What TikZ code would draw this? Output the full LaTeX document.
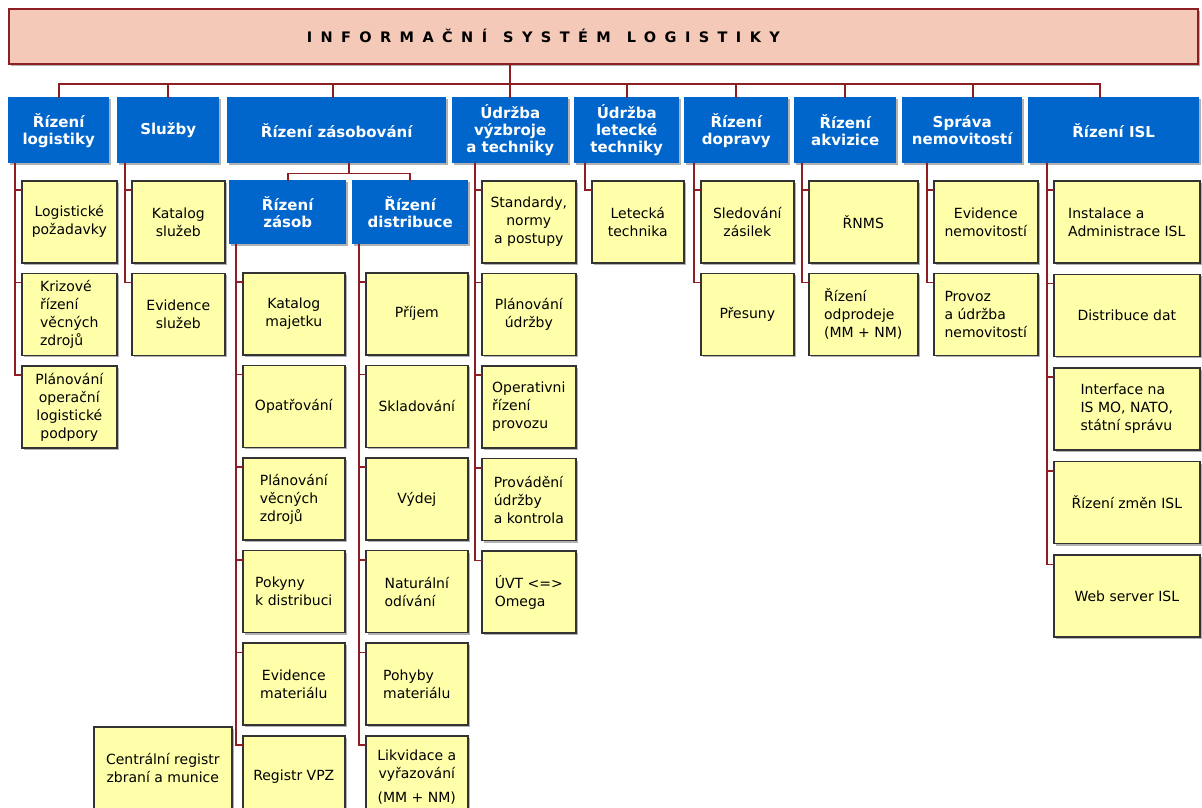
\documentclass[tikz,border=0pt]{standalone}
\usepackage{fontspec}
\setmainfont{DejaVu Sans}
\newfontfamily\titlefont[LetterSpace=58]{DejaVu Sans}
\usetikzlibrary{positioning}
\usetikzlibrary{calc}
\usetikzlibrary{shadows}
\definecolor{linkred}{RGB}{140,30,36}
\definecolor{titlepink}{RGB}{245,201,184}
\definecolor{headblue}{RGB}{0,102,204}
\definecolor{leafyellow}{RGB}{255,255,170}
\tikzset{link/.style={draw=linkred, line width=1.7pt, line cap=rect}}
\tikzset{boxshadow/.style={general shadow={fill=black!30, shadow xshift=2pt, shadow yshift=-2pt}}}
\tikzset{titlebox/.style={draw=linkred, fill=titlepink, line width=1.7pt, minimum width=1189pt, minimum height=55pt, anchor=north west, boxshadow}}
\tikzset{titletext/.style={font=\titlefont\bfseries\fontsize{14.5}{16}\selectfont}}
\tikzset{head/.style={fill=headblue, text=white, font=\bfseries\fontsize{15}{17}\selectfont, align=center, inner sep=0pt, minimum height=66pt, anchor=north west, boxshadow}}
\tikzset{leaf/.style={draw=black!80, fill=leafyellow, line width=1.6pt, font=\fontsize{14}{18}\selectfont, align=center, inner sep=0pt, minimum height=82pt, anchor=north west, boxshadow}}
\tikzset{leftleaf/.style={leaf, align=left}}

\begin{document}
\begin{tikzpicture}[x=1pt, y=-1pt, node distance=9pt]
\useasboundingbox (0,0) rectangle (1202,807);

\node (isl) [titlebox, label={[titletext, xshift=-60pt]center:INFORMAČNÍ\hspace{16pt}SYSTÉM\hspace{16pt}LOGISTIKY}] at (8,8) {};

% hlavni oblasti
\node (rl) [head, minimum width=101pt] at (8,97) {Řízení\\logistiky};
\node (sl) [head, minimum width=102pt] at (117,97) {Služby};
\node (rz) [head, minimum width=219pt] at (227,97) {Řízení zásobování};
\node (uvt) [head, minimum width=116pt] at (452,97) {Údržba\\výzbroje\\a techniky};
\node (ult) [head, minimum width=105pt] at (574,97) {Údržba\\letecké\\techniky};
\node (rd) [head, minimum width=104pt] at (684,97) {Řízení\\dopravy};
\node (ra) [head, minimum width=102pt] at (794,97) {Řízení\\akvizice};
\node (sn) [head, minimum width=120pt] at (902,97) {Správa\\nemovitostí};
\node (ri) [head, minimum width=171pt] at (1028,97) {Řízení ISL};
\node (rzz) [head, minimum width=117pt, minimum height=64pt] at (229,180) {Řízení\\zásob};
\node (rzd) [head, minimum width=116pt, minimum height=64pt] at (352,180) {Řízení\\distribuce};

% Rizeni logistiky
\node (rl1) [leaf, minimum width=95pt] at (21,180) {Logistické\\požadavky};
\node (rl2) [leftleaf, minimum width=95pt, below=of rl1] {Krizové\\řízení\\věcných\\zdrojů};
\node (rl3) [leaf, minimum width=95pt, below=of rl2] {Plánování\\operační\\logistické\\podpory};

% Sluzby
\node (sl1) [leaf, minimum width=93pt] at (131,180) {Katalog\\služeb};
\node (sl2) [leaf, minimum width=93pt, below=of sl1] {Evidence\\služeb};

% Rizeni zasob
\node (rzz1) [leaf, minimum width=102pt] at (242,272) {Katalog\\majetku};
\node (rzz2) [leaf, minimum width=102pt, below=of rzz1] {Opatřování};
\node (rzz3) [leftleaf, minimum width=102pt, below=of rzz2] {Plánování\\věcných\\zdrojů};
\node (rzz4) [leftleaf, minimum width=102pt, below=of rzz3] {Pokyny\\k distribuci};
\node (rzz5) [leaf, minimum width=102pt, below=of rzz4] {Evidence\\materiálu};
\node (rzz6) [leaf, minimum width=102pt, below=of rzz5] {Registr VPZ};
\node (crz) [leaf, minimum width=138pt] at (93,726) {Centrální registr\\zbraní a munice};

% Rizeni distribuce
\node (rzd1) [leaf, minimum width=102pt] at (365,272) {Příjem};
\node (rzd2) [leaf, minimum width=102pt, below=of rzd1] {Skladování};
\node (rzd3) [leaf, minimum width=102pt, below=of rzd2] {Výdej};
\node (rzd4) [leftleaf, minimum width=102pt, below=of rzd3] {Naturální\\odívání};
\node (rzd5) [leftleaf, minimum width=102pt, below=of rzd4] {Pohyby\\materiálu};
\node (rzd6) [leaf, minimum width=102pt, below=of rzd5] {Likvidace a\\vyřazování\\[6pt](MM + NM)};

% Udrzba vyzbroje
\node (uvt1) [leaf, minimum width=94pt] at (481,180) {Standardy,\\normy\\a postupy};
\node (uvt2) [leaf, minimum width=94pt, below=of uvt1] {Plánování\\údržby};
\node (uvt3) [leftleaf, minimum width=94pt, below=of uvt2] {Operativni\\řízení\\provozu};
\node (uvt4) [leftleaf, minimum width=94pt, below=of uvt3] {Provádění\\údržby\\a kontrola};
\node (uvt5) [leftleaf, minimum width=94pt, below=of uvt4] {ÚVT <=>\\Omega};

% letecka technika, doprava, akvizice, nemovitosti
\node (ult1) [leaf, minimum width=92pt] at (591,180) {Letecká\\technika};
\node (rd1) [leaf, minimum width=93pt] at (700,180) {Sledování\\zásilek};
\node (rd2) [leaf, minimum width=93pt, below=of rd1] {Přesuny};
\node (ra1) [leaf, minimum width=109pt] at (808,180) {ŘNMS};
\node (ra2) [leftleaf, minimum width=109pt, below=of ra1] {Řízení\\odprodeje\\(MM + NM)};
\node (sn1) [leaf, minimum width=104pt] at (933,180) {Evidence\\nemovitostí};
\node (sn2) [leftleaf, minimum width=104pt, below=of sn1] {Provoz\\a údržba\\nemovitostí};

% Rizeni ISL
\node (ri1) [leftleaf, minimum width=146pt] at (1053,180) {Instalace a\\Administrace ISL};
\node (ri2) [leaf, minimum width=146pt, below=10pt of ri1] {Distribuce dat};
\node (ri3) [leftleaf, minimum width=146pt, below=10pt of ri2] {Interface na\\IS MO, NATO,\\státní správu};
\node (ri4) [leaf, minimum width=146pt, below=10pt of ri3] {Řízení změn ISL};
\node (ri5) [leaf, minimum width=146pt, below=10pt of ri4] {Web server ISL};

% spoje
\coordinate (bus) at (0,84);
\draw[link] (uvt.north |- isl.south) -- (uvt.north |- bus);
\draw[link] (rl.north |- bus) -- ($(ri.north |- bus)+(-14,0)$);
\foreach \h/\dx in {rl/0, sl/0, rz/-4, uvt/0, ult/0, rd/0, ra/0, sn/11, ri/-14}
  \draw[link] ($(\h.north)+(\dx,0)$) -- ($(\h.north |- bus)+(\dx,0)$);

\draw[link] ($(rz.south)+(12,0)$) -- ++(0,10) coordinate (sub);
\draw[link] (rzz.north) -- (rzz.north |- sub) -- (rzd.north |- sub) -- (rzd.north);

\foreach \col/\k in {rl/3, sl/2, rzz/6, rzd/6, uvt/5, ult/1, rd/2, ra/2, sn/2, ri/5} {
  \draw[link] ($(\col1.west |- \col.south)+(-6,0)$) |- ($(\col\k.north west)+(0,10)$);
  \foreach \i in {1,...,\k}
    \draw[link] ($(\col\i.north west)+(-6,10)$) -- ($(\col\i.north west)+(0,10)$);
}
\end{tikzpicture}
\end{document}
